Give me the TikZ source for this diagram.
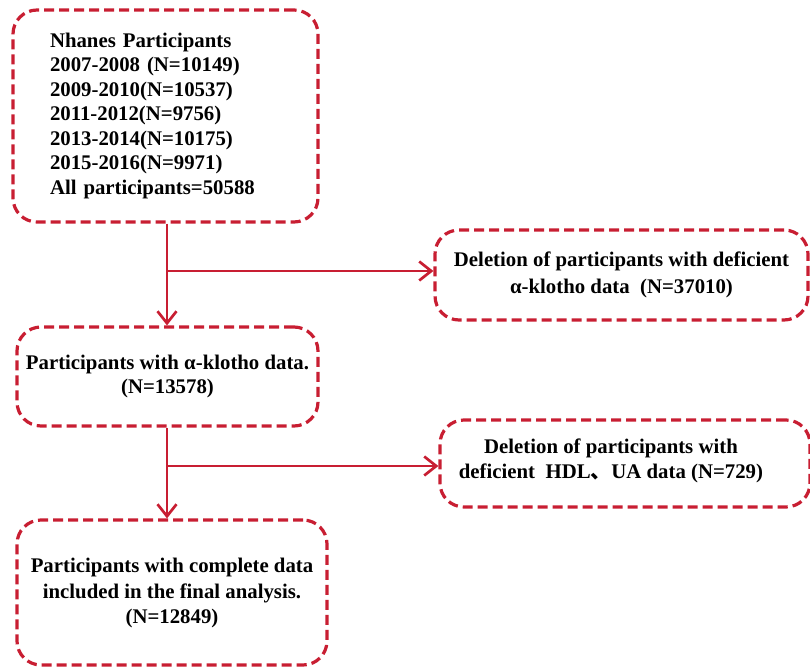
\documentclass[tikz,border=0pt]{standalone}
\usepackage{fontspec}
\setmainfont{Liberation Serif}
\newfontfamily\cjkfont{Noto Sans CJK SC}
\usepackage{tikz}
\usetikzlibrary{positioning, arrows.meta}
\usepackage{xcolor}
\definecolor{flowred}{RGB}{200, 30, 50}

\tikzset{
  boxfont/.style={font=\fontsize{20.8}{24.5}\selectfont\bfseries},
  dashbox/.style={draw=flowred, line width=3.2pt, rounded corners=24pt,
    dash pattern=on 10pt off 5pt, align=center, inner sep=0pt, boxfont},
  flowarrow/.style={draw=flowred, line width=2.7pt,
    -{Straight Barb[length=12pt, width=19pt, line width=2.7pt]}},
}

\begin{document}
\begin{tikzpicture}[x=1pt, y=-1pt]
  \useasboundingbox (0,0) rectangle (810,668);

  \node[dashbox, minimum width=305pt, minimum height=212pt, text width=231pt,
        inner xsep=37pt, align=left] (nhanes) at (165.5,116) {
    Nhanes Participants\\
    2007-2008 (N=10149)\\
    2009-2010(N=10537)\\
    2011-2012(N=9756)\\
    2013-2014(N=10175)\\
    2015-2016(N=9971)\\
    All participants=50588};

  \node[dashbox, minimum width=373pt, minimum height=90pt] (delklotho) at (621.5,275) {
    Deletion of participants with deficient\\[3pt]
    α-klotho data\ \ (N=37010)};

  \node[dashbox, minimum width=301pt, minimum height=99pt] (klotho) at (167.5,376.5) {
    Participants with α-klotho data.\\
    (N=13578)};

  \node[dashbox, minimum width=370pt, minimum height=87pt] (delhdl) at (625,463.5) {};
  \node[boxfont, align=center] (delhdltext) at (611,461) {
    Deletion of participants with\\
    deficient\ \ HDL{\cjkfont 、}UA data (N=729)};

  \node[dashbox, minimum width=310pt, minimum height=145pt] (final) at (172,592.5) {
    Participants with complete data\\[2pt]
    included in the final analysis.\\
    (N=12849)};

  % branch points
  \coordinate (b1) at (167,271);
  \coordinate (b2) at (167,466);

  \draw[flowarrow] (nhanes.south -| b1) -- (klotho.north -| b1);
  \draw[flowarrow] (b1) -- (b1 -| delklotho.west);
  \draw[flowarrow] (klotho.south -| b2) -- (final.north -| b2);
  \draw[flowarrow] (b2) -- (b2 -| delhdl.west);
\end{tikzpicture}
\end{document}
